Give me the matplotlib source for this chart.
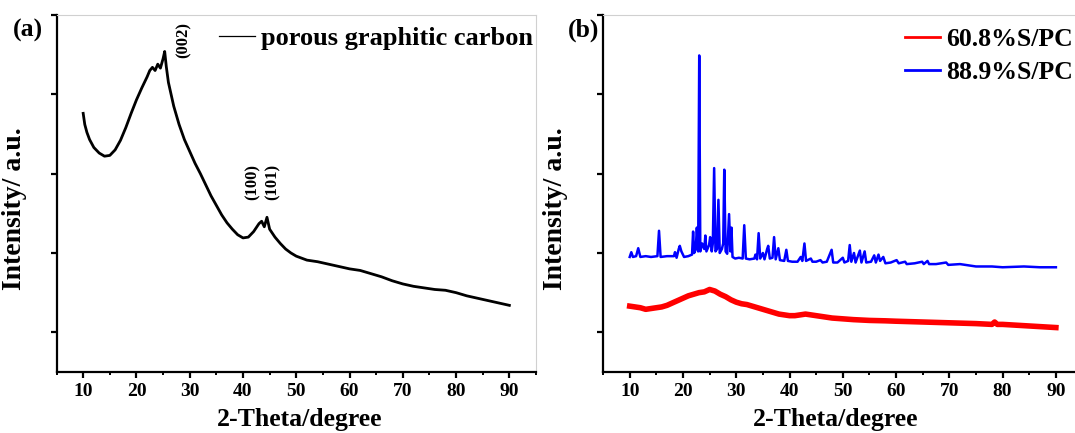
import numpy as np
import matplotlib
matplotlib.use("Agg")
import matplotlib.pyplot as plt
from matplotlib.ticker import MultipleLocator

plt.rcParams['font.family'] = ['Liberation Serif', 'DejaVu Serif']
plt.rcParams['font.weight'] = 'bold'

# (a) porous graphitic carbon
pgc_x = [10.0, 10.3, 10.7, 11.2, 12.0, 13.0, 14.0, 15.0, 16.0, 17.0, 18.0, 19.0, 20.0,
         21.0, 22.0, 22.5, 23.0, 23.5, 24.0, 24.5, 25.0, 25.3, 25.6, 26.0, 27.0, 28.0,
         29.0, 30.0, 31.0, 32.0, 33.0, 34.0, 35.0, 36.0, 37.0, 38.0, 39.0, 40.0, 41.0,
         42.0, 43.0, 43.5, 44.0, 44.5, 45.0, 46.0, 47.0, 48.0, 49.0, 50.0, 52.0, 54.0,
         56.0, 58.0, 60.0, 62.0, 64.0, 66.0, 68.0, 70.0, 72.0, 74.0, 76.0, 78.0, 80.0,
         82.0, 84.0, 86.0, 88.0, 90.0]
pgc_y = [2.76, 2.62, 2.52, 2.43, 2.33, 2.26, 2.22, 2.23, 2.30, 2.42, 2.58, 2.76, 2.93,
         3.08, 3.22, 3.30, 3.34, 3.30, 3.38, 3.33, 3.45, 3.54, 3.35, 3.15, 2.85, 2.62,
         2.43, 2.28, 2.13, 2.00, 1.86, 1.72, 1.60, 1.48, 1.38, 1.30, 1.23, 1.19, 1.20,
         1.27, 1.37, 1.40, 1.33, 1.45, 1.30, 1.20, 1.12, 1.05, 1.00, 0.96, 0.91, 0.89,
         0.86, 0.83, 0.80, 0.78, 0.74, 0.70, 0.65, 0.61, 0.58, 0.56, 0.54, 0.53, 0.50,
         0.46, 0.43, 0.40, 0.37, 0.34]

# (b) 60.8%S/PC
s60_x = [10, 11, 12, 13, 14, 15, 16, 17, 18, 19, 20, 21, 22, 23, 24, 25, 26, 27, 28, 29,
         30, 31, 32, 33, 34, 35, 36, 37, 38, 39, 40, 41, 42, 43, 44, 45, 46, 47, 48, 50,
         52, 55, 58, 60, 65, 70, 75, 78, 78.5, 79, 80, 85, 90]
s60_y = [0.33, 0.32, 0.31, 0.29, 0.30, 0.31, 0.32, 0.34, 0.37, 0.40, 0.43, 0.46, 0.48,
         0.50, 0.51, 0.54, 0.52, 0.48, 0.45, 0.41, 0.38, 0.36, 0.35, 0.33, 0.31, 0.29,
         0.27, 0.25, 0.23, 0.22, 0.21, 0.21, 0.22, 0.23, 0.22, 0.21, 0.20, 0.19, 0.18,
         0.17, 0.16, 0.15, 0.145, 0.14, 0.13, 0.12, 0.11, 0.10, 0.13, 0.10, 0.10, 0.08, 0.06]

# (b) 88.9%S/PC
s88_x = [10.0, 10.3, 10.6, 11.2, 11.6, 12.0, 13.0, 14.0, 15.2, 15.5, 15.8, 17.0, 18.3,
         18.5, 18.8, 19.2, 19.4, 19.7, 20.2, 21.0, 21.7, 21.9, 22.1, 22.4, 22.6, 22.85,
         23.05, 23.25, 23.6, 24.0, 24.2, 24.4, 24.9, 25.1, 25.4, 25.6, 25.85, 26.1, 26.4,
         26.65, 26.9, 27.3, 27.55, 27.75, 28.0, 28.3, 28.65, 28.9, 29.1, 29.3, 29.8, 30.5,
         31.2, 31.5, 31.8, 32.5, 33.4, 33.6, 33.9, 34.2, 34.5, 35.0, 35.3, 35.8, 36.0,
         36.3, 36.8, 37.1, 37.4, 37.9, 38.2, 39.0, 39.4, 39.7, 40.5, 41.5, 42.1, 42.4,
         42.8, 43.1, 44.0, 44.3, 45.0, 45.8, 46.2, 47.0, 47.9, 48.2, 49.0, 50.0, 50.3,
         51.0, 51.3, 51.6, 52.1, 52.4, 53.2, 53.5, 54.1, 54.4, 55.3, 55.9, 56.2, 56.7,
         57.0, 57.6, 58.0, 59.0, 60.1, 60.5, 61.7, 62.0, 63.5, 64.9, 65.2, 65.9, 66.2,
         67.5, 69.4, 69.8, 72.0, 73.0, 75.0, 78.0, 80.0, 84.0, 87.0, 90.0]
s88_y = [0.95, 1.01, 0.95, 0.96, 1.06, 0.95, 0.96, 0.95, 0.96, 1.28, 0.95, 0.96, 0.96,
         1.01, 0.94, 1.05, 1.09, 1.02, 0.95, 0.96, 0.98, 1.27, 1.00, 1.05, 1.32, 1.02,
         3.49, 1.02, 1.12, 1.05, 1.22, 1.02, 1.10, 1.20, 1.02, 1.12, 2.07, 1.02, 1.05,
         1.67, 1.00, 1.05, 1.12, 2.05, 1.02, 0.99, 1.49, 1.02, 1.32, 0.95, 0.93, 0.94,
         0.93, 1.35, 0.93, 0.92, 0.93, 0.98, 0.92, 1.25, 0.93, 1.00, 0.92, 1.05, 1.09,
         0.93, 0.94, 1.20, 0.92, 1.06, 0.91, 0.90, 1.04, 0.90, 0.89, 0.89, 0.95, 0.90,
         1.12, 0.90, 0.93, 0.89, 0.89, 0.91, 0.88, 0.89, 1.04, 0.88, 0.88, 0.94, 0.88,
         0.90, 1.10, 0.89, 1.00, 0.88, 1.03, 0.88, 1.02, 0.88, 0.89, 0.97, 0.88, 0.98,
         0.90, 0.95, 0.87, 0.88, 0.91, 0.87, 0.89, 0.86, 0.87, 0.89, 0.86, 0.90, 0.86,
         0.86, 0.88, 0.85, 0.86, 0.85, 0.83, 0.83, 0.82, 0.83, 0.82, 0.82]

x_ticks = [10, 20, 30, 40, 50, 60, 70, 80, 90]


def style_axes(ax):
    ax.set_xlim(5, 95)
    ax.set_ylim(-0.5, 4)
    ax.set_xticks(x_ticks)
    ax.xaxis.set_minor_locator(MultipleLocator(5))
    ax.set_yticks([0, 1, 2, 3, 4])
    ax.set_yticklabels([])
    for s in ['left', 'bottom']:
        ax.spines[s].set_linewidth(1.6)
    for s in ['top', 'right']:
        ax.spines[s].set_color('#d0d0d0')
        ax.spines[s].set_linewidth(0.8)
    ax.tick_params(which='major', direction='out', length=4, width=1.6,
                   labelsize=14, pad=4, top=False, right=False)
    ax.tick_params(which='minor', direction='out', length=2.5, width=1.4,
                   top=False, right=False)
    for lab in ax.get_xticklabels():
        lab.set_fontweight('bold')
    ax.set_xlabel('2-Theta/degree', fontsize=18.5, fontweight='bold')
    ax.set_ylabel('Intensity/ a.u.', fontsize=20, fontweight='bold')


fig = plt.figure(figsize=(10.75, 4.33), dpi=100)
ax1 = fig.add_axes([0.0526, 0.1409, 0.446, 0.8245])
ax2 = fig.add_axes([0.561, 0.1409, 0.446, 0.8245])

ax1.plot(pgc_x, pgc_y, color='black', lw=2.0, label='porous graphitic carbon')
style_axes(ax1)
ax1.xaxis.set_label_coords(0.506, -0.10)
ax1.yaxis.set_label_coords(-0.062, 0.457)
leg1 = ax1.legend(loc='upper right', bbox_to_anchor=(1.0, 0.974), frameon=False,
                  prop={'size': 19, 'weight': 'bold'}, handlelength=1.36,
                  handletextpad=0.25, borderaxespad=0, borderpad=0.1)
for ln in leg1.get_lines():
    ln.set_linewidth(0.9)
ax1.text(28.8, 3.68, '(002)', rotation=90, ha='center', va='center',
         fontsize=12, fontweight='bold')
ax1.text(41.8, 1.90, '(100)', rotation=90, ha='center', va='center',
         fontsize=12, fontweight='bold')
ax1.text(45.6, 1.89, '(101)', rotation=90, ha='center', va='center',
         fontsize=12, fontweight='bold')
fig.text(13 / 1075, 1 - 30 / 433, '(a)', fontsize=18.5, fontweight='bold',
         ha='left', va='center')

ax2.plot(s60_x, s60_y, color='#ff0000', lw=4.0, label='60.8%S/PC')
ax2.plot(s88_x, s88_y, color='#0000ff', lw=1.8, label='88.9%S/PC')
style_axes(ax2)
ax2.xaxis.set_label_coords(0.484, -0.10)
ax2.yaxis.set_label_coords(-0.073, 0.457)
leg2 = ax2.legend(loc='upper right', bbox_to_anchor=(0.985, 0.971), frameon=False,
                  prop={'size': 18.5, 'weight': 'bold'}, handlelength=1.36,
                  handletextpad=0.25, borderaxespad=0, borderpad=0.1,
                  labelspacing=0.4)
for ln in leg2.get_lines():
    ln.set_linewidth(2.0)
fig.text(568 / 1075, 1 - 30 / 433, '(b)', fontsize=18.5, fontweight='bold',
         ha='left', va='center')

fig.savefig('out.png', dpi=100)
